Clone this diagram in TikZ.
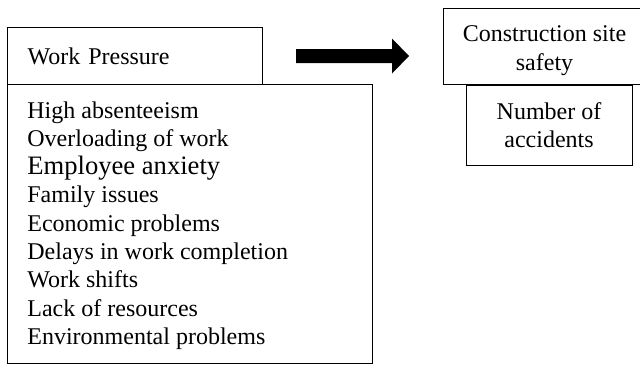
\documentclass[tikz,border=0pt]{standalone}
\usepackage{fontspec}
\setmainfont{Liberation Serif}
\tikzset{basic/.style={draw,fill=none,line width=0.6pt,rectangle,
                       anchor=north west}}
\tikzset{header/.style={basic,align=left,inner xsep=10pt,
                        font=\fontsize{12}{14}\selectfont}}
\tikzset{outcome/.style={anchor=north,align=center,inner sep=0pt}}
\tikzset{factor/.style={anchor=base west,inner sep=0pt}}

\begin{document}
\begin{tikzpicture}[x=0.5pt,y=-0.5pt]
            \useasboundingbox (0,0) rectangle (640,365);
            % Work pressure header
            \node[header, minimum width=127.5pt, minimum height=28.5pt,
                  text width=107.5pt] (pressure) at (7,27) {Work Pressure};
            % Box holding the factors
            \node[basic, minimum width=182.5pt, minimum height=139.5pt]
                  (factors) at (7,84) {};
            % Draw factor nodes (text / font size)
            \foreach \f/\s [count=\fn ] in {High absenteeism/12,
                  Overloading of work/12,Employee anxiety/13.3,
                  Family issues/12,Economic problems/12,
                  Delays in work completion/12,Work shifts/12,
                  Lack of resources/12,Environmental problems/12}{%
            \node[factor, font=\fontsize{\s}{14}\selectfont]
                  (f\fn) at (27,{118+(\fn-1)*28.3}) {\f};
            }
            % Big arrow
            \coordinate (arrow) at (296,56);
            \fill (arrow) ++(0,-7) -- ++(96,0) -- ++(0,-10.5) -- ++(17,17.5)
                  -- ++(-17,17.5) -- ++(0,-10.5) -- ++(-96,0) -- cycle;
            % Outcome boxes
            \node[basic, minimum width=101.5pt, minimum height=38pt]
                  (site) at (443,8) {};
            \node[basic, minimum width=83pt, minimum height=40pt]
                  (accidents) at (466,85) {};
            % Outcome texts
            \node[outcome, font=\fontsize{12}{14.5}\selectfont]
                  (site text) at (544.5,25.4) {Construction site\\safety};
            \node[outcome, font=\fontsize{12}{14}\selectfont]
                  (accidents text) at (549,102.6) {Number of\\accidents};
\end{tikzpicture}
\end{document}
